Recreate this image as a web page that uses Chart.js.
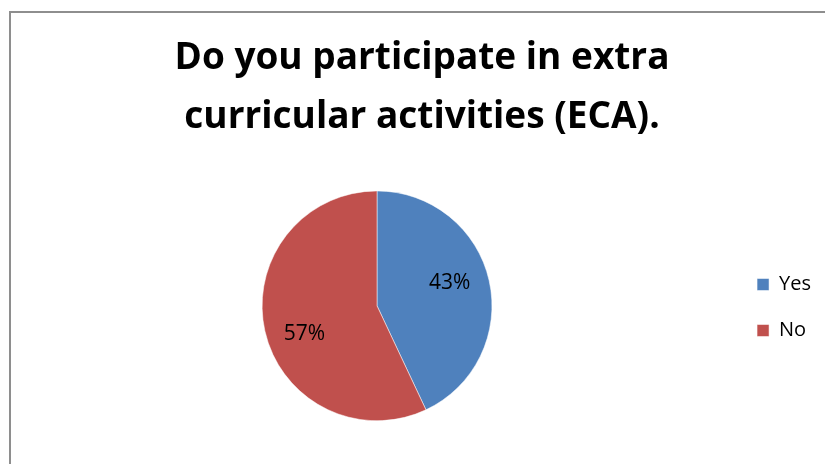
<!DOCTYPE html>
<html>
<head>
  <meta charset="utf-8">
  <title>ECA participation</title>
  <script src="https://cdn.jsdelivr.net/npm/chart.js"></script>
  <style>
    html, body { margin: 0; padding: 0; background: #fff; }
    #wrap { position: relative; width: 825px; height: 464px; overflow: hidden; }
    #frame {
      position: absolute; left: 9px; top: 11px; width: 830px; height: 470px;
      border-left: 2px solid #8e8e8e; border-top: 2px solid #8e8e8e;
    }
    canvas { position: absolute; left: 0; top: 0; }
  </style>
</head>
<body>
<div id="wrap">
  <div id="frame"></div>
  <canvas id="ecaChart" width="825" height="464"></canvas>
</div>
<script>
  // data
  const categories = ['Yes', 'No'];
  const percents = [43, 57];
  const sliceColors = ['#4F81BD', '#C0504D'];
  const titleLines = ['Do you participate in extra', 'curricular activities (ECA).'];

  const FONT = '"Open Sans", Lato, sans-serif';

  // percentage labels inside each arc (Excel nudges them a little counter-clockwise)
  const sliceLabels = {
    id: 'sliceLabels',
    afterDatasetsDraw(chart) {
      const ctx = chart.ctx;
      const meta = chart.getDatasetMeta(0);
      ctx.save();
      ctx.font = '21px ' + FONT;
      ctx.fillStyle = '#000';
      ctx.textAlign = 'center';
      ctx.textBaseline = 'middle';
      meta.data.forEach((arc, i) => {
        const p = arc.getProps(['x', 'y', 'startAngle', 'endAngle', 'outerRadius'], true);
        const mid = (p.startAngle + p.endAngle) / 2 - 0.12;
        const r = p.outerRadius * 0.67;
        ctx.fillText(percents[i] + '%', p.x + Math.cos(mid) * r, p.y + Math.sin(mid) * r + 3);
      });
      ctx.restore();
    }
  };

  new Chart(document.getElementById('ecaChart'), {
    type: 'pie',
    data: {
      labels: categories,
      datasets: [{
        data: percents,
        backgroundColor: sliceColors,
        borderColor: '#ffffff',
        borderWidth: 0.5
      }]
    },
    options: {
      responsive: false,
      animation: false,
      layout: { padding: { left: 23, right: 4, top: 0, bottom: 43 } },
      plugins: {
        title: {
          display: true,
          text: titleLines,
          color: '#000',
          font: { family: FONT, size: 37, weight: 'bold', lineHeight: 1.59 },
          padding: { top: 29, bottom: 44 }
        },
        legend: {
          position: 'right',
          // the legend box runs from the canvas top, an empty title pushes the items down beside the pie
          title: {
            display: true,
            text: ' ',
            font: { size: 10, lineHeight: 1 },
            padding: { top: 184, bottom: 0 }
          },
          labels: {
            color: '#000',
            font: { family: FONT, size: 20 },
            boxWidth: 12,
            boxHeight: 12,
            padding: 26
          }
        },
        tooltip: { enabled: false }
      }
    },
    plugins: [sliceLabels]
  });
</script>
</body>
</html>
